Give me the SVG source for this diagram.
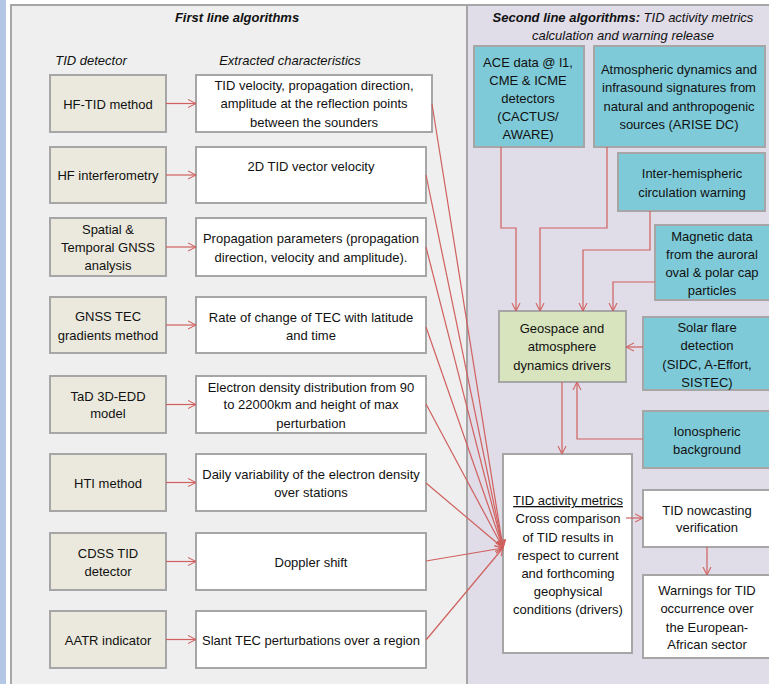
<svg xmlns="http://www.w3.org/2000/svg" width="769" height="684" viewBox="0 0 769 684">
<defs>
<marker id="ah" viewBox="0 0 10 10" refX="10" refY="5" markerWidth="8" markerHeight="10" markerUnits="userSpaceOnUse" orient="auto">
<path d="M0,0 L10,5 L0,10" fill="none" stroke="#d0605e" stroke-width="1.3"/>
</marker>
</defs>
<style>
.pl{fill:#eeefee;stroke:#a6a6a6;stroke-width:2}
.pr{fill:#e0dce8;stroke:#a6a6a6;stroke-width:2}
.det{fill:#ebe9dd;stroke:#a6a6a6;stroke-width:2}
.ext{fill:#ffffff;stroke:#a6a6a6;stroke-width:2}
.cy{fill:#7ecad8;stroke:#a6a6a6;stroke-width:2}
.gr{fill:#d7e4bd;stroke:#a6a6a6;stroke-width:2}
text{font-family:"Liberation Sans",Arial,sans-serif;font-size:13px;fill:#111;text-anchor:middle}
.h{font-weight:bold;font-style:italic}
.i{font-style:italic}
.c{fill:none;stroke:#d0605e;stroke-width:1.2;marker-end:url(#ah)}
</style>
<rect x="0" y="0" width="769" height="684" fill="#ffffff"/>
<rect x="0" y="0" width="6" height="684" fill="#b4c7e7"/>
<g id="panel-first">
<rect class="pl" x="11" y="5" width="456" height="690"/>
<text class="h" x="237" y="22">First line algorithms</text>
<text class="i" x="91" y="65">TID detector</text>
<text class="i" x="290" y="65">Extracted characteristics</text>
</g>
<g id="panel-second">
<rect class="pr" x="467" y="5" width="310" height="690"/>
<text x="623" y="22"><tspan class="h">Second line algorithms:</tspan><tspan class="i"> TID activity metrics</tspan></text>
<text class="i" x="623" y="40">calculation and warning release</text>
</g>
<g id="det1"><rect class="det" x="50" y="75" width="116" height="57"/><text x="108" y="109">HF-TID method</text></g>
<g id="det2"><rect class="det" x="50" y="147" width="116" height="56"/><text x="108" y="180">HF interferometry</text></g>
<g id="det3"><rect class="det" x="50" y="218" width="116" height="58"/><text x="108" y="234">Spatial &amp;</text><text x="108" y="252">Temporal GNSS</text><text x="108" y="270">analysis</text></g>
<g id="det4"><rect class="det" x="50" y="297" width="116" height="56"/><text x="108" y="321">GNSS TEC</text><text x="108" y="340">gradients method</text></g>
<g id="det5"><rect class="det" x="50" y="376" width="116" height="57"/><text x="108" y="401">TaD 3D-EDD</text><text x="108" y="418">model</text></g>
<g id="det6"><rect class="det" x="50" y="454" width="116" height="57"/><text x="108" y="488">HTI method</text></g>
<g id="det7"><rect class="det" x="50" y="533" width="116" height="57"/><text x="108" y="558">CDSS TID</text><text x="108" y="576">detector</text></g>
<g id="det8"><rect class="det" x="50" y="611" width="116" height="57"/><text x="108" y="645">AATR indicator</text></g>
<g id="ext1"><rect class="ext" x="196" y="75" width="236" height="57"/><text x="314" y="90">TID velocity, propagation direction,</text><text x="314" y="108">amplitude at the reflection points</text><text x="314" y="127">between the sounders</text></g>
<g id="ext2"><rect class="ext" x="196" y="147" width="230" height="56"/><text x="311" y="171">2D TID vector velocity</text></g>
<g id="ext3"><rect class="ext" x="196" y="218" width="230" height="58"/><text x="311" y="243">Propagation parameters (propagation</text><text x="311" y="262">direction, velocity and amplitude).</text></g>
<g id="ext4"><rect class="ext" x="196" y="297" width="230" height="56"/><text x="311" y="322">Rate of change of TEC with latitude</text><text x="311" y="340">and time</text></g>
<g id="ext5"><rect class="ext" x="196" y="376" width="230" height="57"/><text x="311" y="392">Electron density distribution from 90</text><text x="311" y="409">to 22000km and height of max</text><text x="311" y="428">perturbation</text></g>
<g id="ext6"><rect class="ext" x="196" y="454" width="230" height="57"/><text x="311" y="479">Daily variability of the electron density</text><text x="311" y="497">over stations</text></g>
<g id="ext7"><rect class="ext" x="196" y="533" width="230" height="57"/><text x="311" y="567">Doppler shift</text></g>
<g id="ext8"><rect class="ext" x="196" y="611" width="230" height="57"/><text x="311" y="645">Slant TEC perturbations over a region</text></g>
<g id="ace"><rect class="cy" x="474" y="46" width="110" height="101"/><text x="528" y="67">ACE data @ l1,</text><text x="528" y="85">CME &amp; ICME</text><text x="528" y="103">detectors</text><text x="528" y="121">(CACTUS/</text><text x="528" y="139">AWARE)</text></g>
<g id="atmos"><rect class="cy" x="594" y="46" width="171" height="101"/><text x="679" y="74">Atmospheric dynamics and</text><text x="679" y="92">infrasound signatures from</text><text x="679" y="111">natural and anthropogenic</text><text x="679" y="129">sources (ARISE DC)</text></g>
<g id="inter"><rect class="cy" x="618" y="153" width="147" height="58"/><text x="692" y="178">Inter-hemispheric</text><text x="692" y="197">circulation warning</text></g>
<g id="magnetic"><rect class="cy" x="655" y="225" width="120" height="75"/><text x="712" y="241">Magnetic data</text><text x="712" y="259">from the auroral</text><text x="712" y="277">oval &amp; polar cap</text><text x="712" y="295">particles</text></g>
<g id="geospace"><rect class="gr" x="499" y="311" width="127" height="71"/><text x="562" y="333">Geospace and</text><text x="562" y="351">atmosphere</text><text x="562" y="370">dynamics drivers</text></g>
<g id="solar"><rect class="cy" x="643" y="317" width="132" height="73"/><text x="707" y="332">Solar flare</text><text x="707" y="350">detection</text><text x="707" y="369">(SIDC, A-Effort,</text><text x="707" y="387">SISTEC)</text></g>
<g id="iono"><rect class="cy" x="643" y="411" width="132" height="57"/><text x="707" y="436">Ionospheric</text><text x="707" y="454">background</text></g>
<g id="metrics"><rect class="ext" x="503" y="454" width="129" height="199"/><text x="568" y="505" text-decoration="underline">TID activity metrics</text><text x="568" y="523">Cross comparison</text><text x="568" y="542">of TID results in</text><text x="568" y="560">respect to current</text><text x="568" y="578">and forthcoming</text><text x="568" y="596">geophysical</text><text x="568" y="614">conditions (drivers)</text></g>
<g id="nowcast"><rect class="ext" x="643" y="490" width="132" height="57"/><text x="707" y="515">TID nowcasting</text><text x="707" y="532">verification</text></g>
<g id="warnings"><rect class="ext" x="643" y="575" width="132" height="83"/><text x="707" y="595">Warnings for TID</text><text x="707" y="613">occurrence over</text><text x="707" y="632">the European-</text><text x="707" y="649">African sector</text></g>
<g id="connectors">
<path class="c" d="M166,103.5 H196"/>
<path class="c" d="M166,175 H196"/>
<path class="c" d="M166,247 H196"/>
<path class="c" d="M166,325 H196"/>
<path class="c" d="M166,404.5 H196"/>
<path class="c" d="M166,482.5 H196"/>
<path class="c" d="M166,561.5 H196"/>
<path class="c" d="M166,639.5 H196"/>
<path class="c" d="M432,104 L503,548"/>
<path class="c" d="M426,175 L503,548"/>
<path class="c" d="M426,247 L503,548"/>
<path class="c" d="M426,327 L503,548"/>
<path class="c" d="M426,404 L503,548"/>
<path class="c" d="M426,483 L503,548"/>
<path class="c" d="M426,561 L503,548"/>
<path class="c" d="M426,640 L503,548"/>
<path class="c" d="M501,147 V228 H516 V311"/>
<path class="c" d="M607,147 V228 H540 V311"/>
<path class="c" d="M650,211 V250 H583 V311"/>
<path class="c" d="M655,282 H613 V311"/>
<path class="c" d="M643,347 H626"/>
<path class="c" d="M643,439 H577 V382"/>
<path class="c" d="M562,382 V454"/>
<path class="c" d="M626,518 H643"/>
<path class="c" d="M707,547 V575"/>
</g>
</svg>
